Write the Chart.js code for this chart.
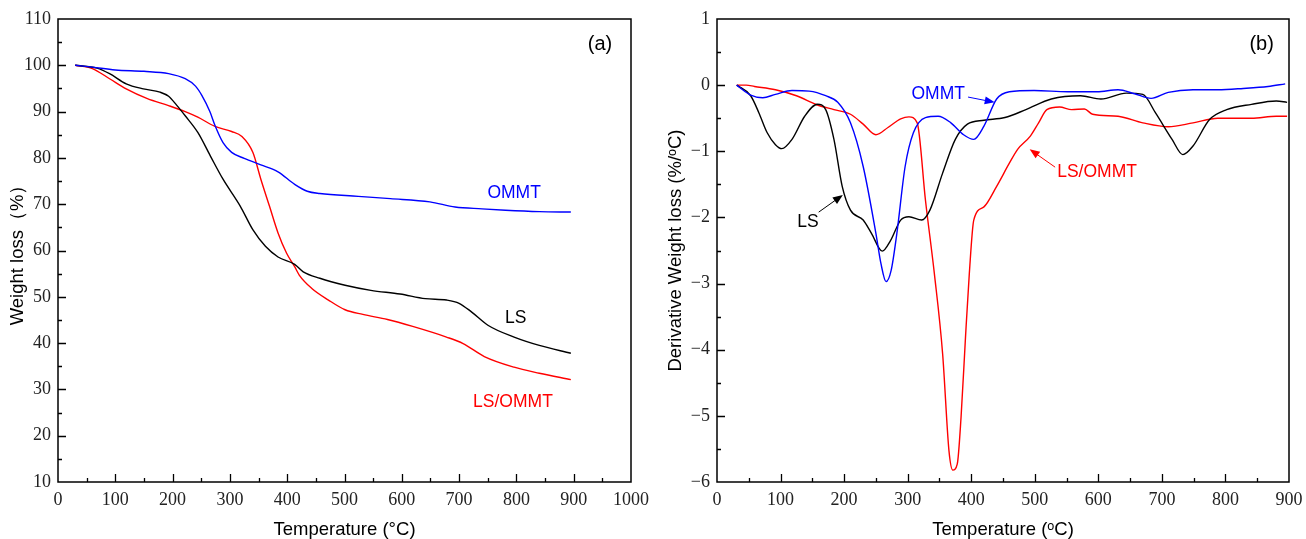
<!DOCTYPE html>
<html>
<head>
<meta charset="utf-8">
<script src="https://cdn.jsdelivr.net/npm/chart.js@4.4.0/dist/chart.umd.min.js"></script>
<style>
    body{margin:0; background:#fff; width:1306px; height:539px; overflow:hidden; position:relative;}
    canvas{position:absolute; top:0;}
    #tga{left:0;}
    #dtg{left:650px;}
</style>
</head>
<body>
<canvas id="tga" width="650" height="539"></canvas>
<canvas id="dtg" width="656" height="539"></canvas>

<script>
// (a) TGA curves, weight loss (%) vs temperature
var tgaOmmtT = [30, 60, 100, 150, 193, 222, 240, 251, 265, 274, 288, 303, 325, 354, 384, 413, 435, 457, 524, 580, 649, 693, 740, 781, 840, 895];
var tgaOmmt  = [100, 99.6, 99, 98.7, 98.2, 97.1, 95.5, 93.5, 90, 87, 83.3, 81.2, 79.9, 78.5, 77, 74.3, 72.8, 72.3, 71.7, 71.2, 70.5, 69.4, 69.0, 68.7, 68.4, 68.3];

var tgaLsT = [30, 68, 90, 119, 149, 178, 193, 207, 222, 244, 266, 288, 318, 340, 362, 384, 413, 428, 457, 501, 546, 597, 641, 678, 700, 722, 751, 796, 840, 895];
var tgaLs  = [100, 99.4, 98.2, 96, 94.9, 94.2, 93.3, 91.4, 89.1, 85.5, 80.4, 75.4, 69.6, 64.5, 60.9, 58.6, 57, 55.4, 54, 52.5, 51.4, 50.6, 49.6, 49.3, 48.6, 46.7, 43.8, 41.3, 39.5, 37.8];

var tgaMixT = [30, 60, 90, 119, 156, 193, 222, 244, 274, 303, 321, 340, 354, 369, 384, 399, 413, 421, 443, 472, 501, 532, 575, 619, 678, 707, 744, 796, 840, 895];
var tgaMix  = [100, 99.3, 97.1, 94.9, 92.8, 91.3, 90, 88.8, 86.8, 85.7, 84.6, 81.2, 75.4, 69.6, 63.8, 59.4, 56.5, 54.7, 51.8, 49.3, 47.2, 46.2, 45.1, 43.6, 41.3, 39.9, 37.1, 34.8, 33.5, 32.1];

// (b) DTG curves, derivative weight loss (%/oC)
var dtgOmmtT = [31, 53, 72, 92, 118, 145, 171, 190, 210, 230, 250, 258, 266, 274, 283, 296, 309, 328, 348, 368, 388, 404, 420, 440, 460, 499, 552, 598, 631, 657, 683, 710, 749, 788, 828, 867, 894];
var dtgOmmt  = [0, -0.15, -0.19, -0.14, -0.08, -0.09, -0.16, -0.26, -0.57, -1.23, -2.24, -2.7, -2.97, -2.8, -2.24, -1.23, -0.72, -0.49, -0.47, -0.57, -0.75, -0.82, -0.62, -0.21, -0.1, -0.08, -0.1, -0.1, -0.07, -0.13, -0.2, -0.11, -0.07, -0.07, -0.05, -0.02, 0.02];

var dtgLsT = [31, 53, 66, 79, 92, 102, 118, 138, 158, 171, 184, 197, 210, 230, 243, 260, 273, 289, 302, 322, 335, 355, 375, 394, 420, 453, 486, 526, 572, 604, 644, 670, 690, 716, 733, 749, 775, 802, 841, 880, 897];
var dtgLs  = [0, -0.16, -0.42, -0.72, -0.9, -0.96, -0.82, -0.47, -0.29, -0.37, -0.82, -1.53, -1.89, -2.04, -2.24, -2.51, -2.35, -2.04, -1.99, -2.04, -1.89, -1.33, -0.82, -0.59, -0.53, -0.49, -0.37, -0.21, -0.16, -0.21, -0.12, -0.14, -0.42, -0.82, -1.05, -0.92, -0.52, -0.37, -0.29, -0.24, -0.26];

var dtgMixT = [31, 46, 59, 92, 125, 158, 184, 210, 230, 250, 269, 289, 302, 315, 328, 342, 355, 365, 371, 378, 384, 391, 397, 404, 420, 440, 460, 473, 493, 506, 519, 539, 558, 578, 591, 631, 670, 710, 749, 788, 841, 880, 897];
var dtgMix  = [0, 0, -0.02, -0.07, -0.16, -0.3, -0.37, -0.44, -0.59, -0.75, -0.64, -0.51, -0.48, -0.57, -1.74, -2.85, -4.06, -5.53, -5.82, -5.73, -5.02, -3.81, -2.85, -2.04, -1.84, -1.53, -1.18, -0.97, -0.77, -0.57, -0.37, -0.33, -0.37, -0.36, -0.44, -0.47, -0.57, -0.63, -0.57, -0.5, -0.5, -0.47, -0.47];

function pts(xs, ys){
    var out = [];
    for(var i = 0; i < xs.length; i++){ out.push({x: xs[i], y: ys[i]}); }
    return out;
}

function line(data, color){
    return {
        data: data,
        borderColor: color,
        borderWidth: 1.4,
        pointRadius: 0,
        fill: false,
        cubicInterpolationMode: 'monotone'
    };
}

// frame box, inward ticks, text labels and arrows
var framePlugin = {
    id: 'frame',
    afterDraw: function(chart, args, o){
        var ctx = chart.ctx, a = chart.chartArea, x = chart.scales.x, y = chart.scales.y;
        ctx.save();
        ctx.strokeStyle = '#000';
        ctx.lineWidth = 1.5;
        ctx.strokeRect(a.left, a.top, a.right - a.left, a.bottom - a.top);
        ctx.lineWidth = 1.3;
        ctx.beginPath();
        var i, v, px, major;
        for(i = 0; x.min + i * o.xMinor <= x.max + 1e-9; i++){
            v = x.min + i * o.xMinor;
            if(v <= x.min || v >= x.max) continue;
            px = Math.round(x.getPixelForValue(v)) + 0.5;
            major = (i % 2 === 0);
            ctx.moveTo(px, a.bottom);
            ctx.lineTo(px, a.bottom - (major ? 8 : 4));
        }
        for(i = 0; y.min + i * o.yMinor <= y.max + 1e-9; i++){
            v = y.min + i * o.yMinor;
            if(v <= y.min || v >= y.max) continue;
            px = Math.round(y.getPixelForValue(v)) + 0.5;
            major = (i % 2 === 0);
            ctx.moveTo(a.left, px);
            ctx.lineTo(a.left + (major ? 8 : 4), px);
        }
        ctx.stroke();

        ctx.textAlign = 'center';
        ctx.textBaseline = 'middle';
        (o.labels || []).forEach(function(l){
            ctx.fillStyle = l.color;
            ctx.font = l.size + 'px "Liberation Sans", Arial, sans-serif';
            ctx.fillText(l.text, x.getPixelForValue(l.x), y.getPixelForValue(l.y));
        });

        (o.arrows || []).forEach(function(r){
            var x1 = x.getPixelForValue(r.x1), y1 = y.getPixelForValue(r.y1);
            var x2 = x.getPixelForValue(r.x2), y2 = y.getPixelForValue(r.y2);
            var ang = Math.atan2(y2 - y1, x2 - x1);
            ctx.strokeStyle = r.color;
            ctx.fillStyle = r.color;
            ctx.lineWidth = 1;
            ctx.beginPath();
            ctx.moveTo(x1, y1);
            ctx.lineTo(x2 - 6 * Math.cos(ang), y2 - 6 * Math.sin(ang));
            ctx.stroke();
            ctx.beginPath();
            ctx.moveTo(x2, y2);
            ctx.lineTo(x2 - 10 * Math.cos(ang) + 4 * Math.sin(ang), y2 - 10 * Math.sin(ang) - 4 * Math.cos(ang));
            ctx.lineTo(x2 - 10 * Math.cos(ang) - 4 * Math.sin(ang), y2 - 10 * Math.sin(ang) + 4 * Math.cos(ang));
            ctx.closePath();
            ctx.fill();
        });
        ctx.restore();
    }
};

var tickFont = {family: '"Liberation Serif", "Times New Roman", serif', size: 18};
var titleFont = {family: '"Liberation Sans", Arial, sans-serif', size: 18.5};

function minusSign(v){ return String(v).replace('-', '\u2212'); }

function makeOptions(cfg){
    return {
        responsive: false,
        animation: false,
        layout: {padding: {top: 19, right: cfg.padRight, left: 0, bottom: 0}},
        plugins: {
            legend: {display: false},
            tooltip: {enabled: false},
            frame: cfg.frame
        },
        scales: {
            x: {
                type: 'linear',
                min: cfg.xMin, max: cfg.xMax,
                // fixed box so the plot area lands where the reference has it
                afterFit: function(s){ s.height = 57; s.paddingLeft = 0; s.paddingRight = 0; },
                grid: {display: false, drawTicks: false},
                border: {display: false},
                ticks: {stepSize: 100, font: tickFont, color: '#222', padding: 7, maxRotation: 0, autoSkip: false,
                        callback: function(v){ return String(v); }},
                title: {display: true, text: cfg.xTitle, font: titleFont, color: '#000', padding: {top: 0, bottom: -2}}
            },
            y: {
                type: 'linear',
                min: cfg.yMin, max: cfg.yMax,
                afterFit: function(s){ s.width = cfg.yWidth; },
                grid: {display: false, drawTicks: false},
                border: {display: false},
                ticks: {stepSize: cfg.yStep, font: tickFont, color: '#222', padding: 7, autoSkip: false,
                        callback: function(v){ return minusSign(v); }},
                title: {display: true, text: cfg.yTitle, font: titleFont, color: '#000', padding: {top: cfg.yTitlePad, bottom: 0}}
            }
        }
    };
}

new Chart(document.getElementById('tga').getContext('2d'), {
    type: 'line',
    data: {datasets: [
        line(pts(tgaOmmtT, tgaOmmt), '#0000ff'),
        line(pts(tgaLsT, tgaLs), '#000000'),
        line(pts(tgaMixT, tgaMix), '#ff0000')
    ]},
    options: makeOptions({
        padRight: 19, xMin: 0, xMax: 1000, yMin: 10, yMax: 110, yStep: 10, yWidth: 58, yTitlePad: 7,
        xTitle: 'Temperature (°C)', yTitle: 'Weight loss（%）',
        frame: {
            xMinor: 50, yMinor: 5,
            labels: [
                {text: '(a)', x: 946, y: 104.6, color: '#000', size: 20},
                {text: 'OMMT', x: 796, y: 72.3, color: '#0000ff', size: 17.5},
                {text: 'LS', x: 799, y: 45.4, color: '#000', size: 17.5},
                {text: 'LS/OMMT', x: 794, y: 27.3, color: '#ff0000', size: 17.5}
            ]
        }
    }),
    plugins: [framePlugin]
});

new Chart(document.getElementById('dtg').getContext('2d'), {
    type: 'line',
    data: {datasets: [
        line(pts(dtgOmmtT, dtgOmmt), '#0000ff'),
        line(pts(dtgLsT, dtgLs), '#000000'),
        line(pts(dtgMixT, dtgMix), '#ff0000')
    ]},
    options: makeOptions({
        padRight: 17, xMin: 0, xMax: 900, yMin: -6, yMax: 1, yStep: 1, yWidth: 67, yTitlePad: 15,
        xTitle: 'Temperature (\u1D52C)', yTitle: 'Derivative Weight loss (%/\u1D52C)',
        frame: {
            xMinor: 50, yMinor: 0.5,
            labels: [
                {text: '(b)', x: 857, y: 0.62, color: '#000', size: 20},
                {text: 'OMMT', x: 348, y: -0.14, color: '#0000ff', size: 17.5},
                {text: 'LS', x: 143, y: -2.07, color: '#000', size: 17.5},
                {text: 'LS/OMMT', x: 598, y: -1.32, color: '#ff0000', size: 17.5}
            ],
            arrows: [
                {x1: 395, y1: -0.18, x2: 437, y2: -0.26, color: '#0000ff'},
                {x1: 160, y1: -1.92, x2: 198, y2: -1.66, color: '#000'},
                {x1: 532, y1: -1.24, x2: 492, y2: -0.97, color: '#ff0000'}
            ]
        }
    }),
    plugins: [framePlugin]
});
</script>
</body>
</html>
